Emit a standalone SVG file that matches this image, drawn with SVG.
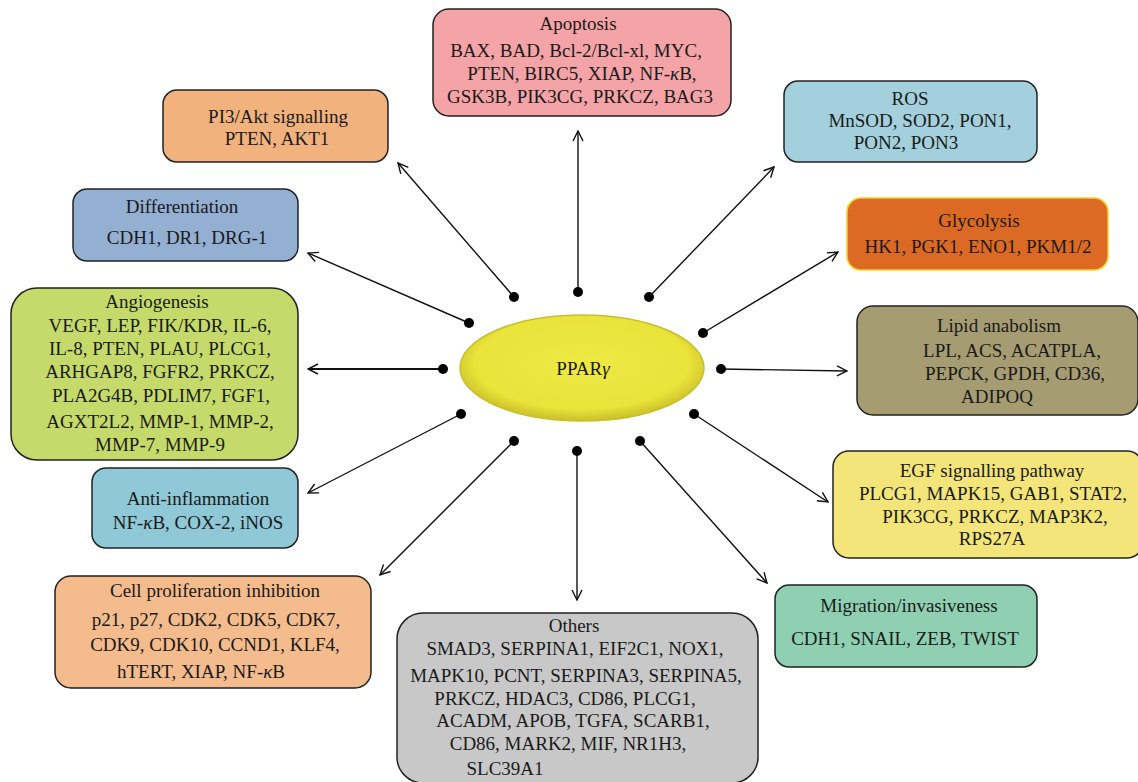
<svg xmlns="http://www.w3.org/2000/svg" width="1138" height="782" viewBox="0 0 1138 782">
<style>
.box{stroke:#222;stroke-width:1.5}
text{font-family:"Liberation Serif","Times New Roman",serif;font-size:19px;fill:#1a1a1a;text-anchor:middle}
.c{stroke:#111;stroke-width:1.4;fill:none;marker-end:url(#ah)}
.dot{fill:#000}
</style>
<defs>
<marker id="ah" viewBox="0 0 12 12" refX="11" refY="6" markerWidth="12" markerHeight="12" markerUnits="userSpaceOnUse" orient="auto">
<path d="M1,1 L11,6 L1,11" fill="none" stroke="#111" stroke-width="1.4"/>
</marker>
<radialGradient id="eg" cx="50%" cy="45%" r="55%">
<stop offset="0" stop-color="#eeea44"/>
<stop offset="0.8" stop-color="#e9e33a"/>
<stop offset="1" stop-color="#c9c028"/>
</radialGradient>
</defs>

<g id="connectors">
<line class="c" x1="578" y1="292" x2="578" y2="131"/>
<line class="c" x1="514" y1="297" x2="398" y2="163"/>
<line class="c" x1="469" y1="323" x2="308" y2="253"/>
<line class="c" x1="443" y1="369" x2="308" y2="369" style="stroke-width:2"/>
<line class="c" x1="461" y1="414" x2="308" y2="493"/>
<line class="c" x1="514" y1="441" x2="380" y2="575"/>
<line class="c" x1="577" y1="451" x2="577" y2="600"/>
<line class="c" x1="640" y1="441" x2="767" y2="583"/>
<line class="c" x1="694" y1="414" x2="828" y2="502"/>
<line class="c" x1="721" y1="369" x2="847" y2="371"/>
<line class="c" x1="703" y1="333" x2="838" y2="252"/>
<line class="c" x1="649" y1="297" x2="774" y2="167"/>
<circle class="dot" cx="578" cy="292" r="5"/>
<circle class="dot" cx="514" cy="297" r="5"/>
<circle class="dot" cx="469" cy="323" r="5"/>
<circle class="dot" cx="443" cy="369" r="5"/>
<circle class="dot" cx="461" cy="414" r="5"/>
<circle class="dot" cx="514" cy="441" r="5"/>
<circle class="dot" cx="577" cy="451" r="5"/>
<circle class="dot" cx="640" cy="441" r="5"/>
<circle class="dot" cx="694" cy="414" r="5"/>
<circle class="dot" cx="721" cy="369" r="5"/>
<circle class="dot" cx="703" cy="333" r="5"/>
<circle class="dot" cx="649" cy="297" r="5"/>
</g>

<g id="ppar">
<ellipse cx="582" cy="368" rx="122" ry="53" fill="url(#eg)" stroke="#c8bf2a" stroke-width="1.5"/>
<text x="583" y="375">PPAR<tspan font-style="italic">γ</tspan></text>
</g>

<g id="apoptosis">
<rect class="box" x="433" y="9" width="298" height="107" rx="16" fill="#f4a3a7"/>
<text x="578" y="30">Apoptosis</text>
<text x="576" y="57">BAX, BAD, Bcl-2/Bcl-xl, MYC,</text>
<text x="582" y="80">PTEN, BIRC5, XIAP, NF-<tspan font-style="italic">κ</tspan>B,</text>
<text x="580" y="103">GSK3B, PIK3CG, PRKCZ, BAG3</text>
</g>

<g id="pi3akt">
<rect class="box" x="163" y="90" width="225" height="72" rx="14" fill="#f2b27e"/>
<text x="278" y="123">PI3/Akt signalling</text>
<text x="277" y="145">PTEN, AKT1</text>
</g>

<g id="differentiation">
<rect class="box" x="73" y="189" width="225" height="72" rx="14" fill="#93afd2"/>
<text x="182" y="213">Differentiation</text>
<text x="187" y="244">CDH1, DR1, DRG-1</text>
</g>

<g id="angiogenesis">
<rect class="box" x="11" y="288" width="287" height="172" rx="26" fill="#c5da6a"/>
<text x="157" y="308">Angiogenesis</text>
<text x="160" y="332">VEGF, LEP, FIK/KDR, IL-6,</text>
<text x="160" y="355">IL-8, PTEN, PLAU, PLCG1,</text>
<text x="160" y="378">ARHGAP8, FGFR2, PRKCZ,</text>
<text x="161" y="402">PLA2G4B, PDLIM7, FGF1,</text>
<text x="160" y="428">AGXT2L2, MMP-1, MMP-2,</text>
<text x="160" y="451">MMP-7, MMP-9</text>
</g>

<g id="antiinflammation">
<rect class="box" x="92" y="468" width="206" height="80" rx="14" fill="#8fc8d6"/>
<text x="198" y="505">Anti-inflammation</text>
<text x="198" y="529">NF-<tspan font-style="italic">κ</tspan>B, COX-2, iNOS</text>
</g>

<g id="cellprolif">
<rect class="box" x="55" y="576" width="316" height="112" rx="16" fill="#f4bb8d"/>
<text x="215" y="597">Cell proliferation inhibition</text>
<text x="216" y="626">p21, p27, CDK2, CDK5, CDK7,</text>
<text x="215" y="651">CDK9, CDK10, CCND1, KLF4,</text>
<text x="201" y="678">hTERT, XIAP, NF-<tspan font-style="italic">κ</tspan>B</text>
</g>

<g id="others">
<rect class="box" x="397" y="613" width="361" height="170" rx="26" fill="#c8c8c8"/>
<text x="574" y="632">Others</text>
<text x="575" y="655">SMAD3, SERPINA1, EIF2C1, NOX1,</text>
<text x="576" y="682">MAPK10, PCNT, SERPINA3, SERPINA5,</text>
<text x="565" y="705">PRKCZ, HDAC3, CD86, PLCG1,</text>
<text x="573" y="727">ACADM, APOB, TGFA, SCARB1,</text>
<text x="568" y="750">CD86, MARK2, MIF, NR1H3,</text>
<text x="505" y="775">SLC39A1</text>
</g>

<g id="migration">
<rect class="box" x="775" y="585" width="262" height="82" rx="14" fill="#8fd0b2"/>
<text x="909" y="612">Migration/invasiveness</text>
<text x="905" y="645">CDH1, SNAIL, ZEB, TWIST</text>
</g>

<g id="egf">
<rect class="box" x="833" y="451" width="310" height="107" rx="16" fill="#f3e57a"/>
<text x="992" y="477">EGF signalling pathway</text>
<text x="993" y="500">PLCG1, MAPK15, GAB1, STAT2,</text>
<text x="995" y="523">PIK3CG, PRKCZ, MAP3K2,</text>
<text x="992" y="545">RPS27A</text>
</g>

<g id="lipid">
<rect class="box" x="857" y="306" width="281" height="109" rx="16" fill="#a59c72"/>
<text x="999" y="332">Lipid anabolism</text>
<text x="1012" y="357">LPL, ACS, ACATPLA,</text>
<text x="1015" y="380">PEPCK, GPDH, CD36,</text>
<text x="997" y="403">ADIPOQ</text>
</g>

<g id="glycolysis">
<rect x="847" y="198" width="261" height="72" rx="14" fill="#dc6a24" stroke="#efd21e" stroke-width="1.5"/>
<text x="979" y="227">Glycolysis</text>
<text x="978" y="253">HK1, PGK1, ENO1, PKM1/2</text>
</g>

<g id="ros">
<rect class="box" x="784" y="81" width="253" height="81" rx="14" fill="#a3d0dc"/>
<text x="910" y="105">ROS</text>
<text x="920" y="127">MnSOD, SOD2, PON1,</text>
<text x="906" y="149">PON2, PON3</text>
</g>
</svg>
